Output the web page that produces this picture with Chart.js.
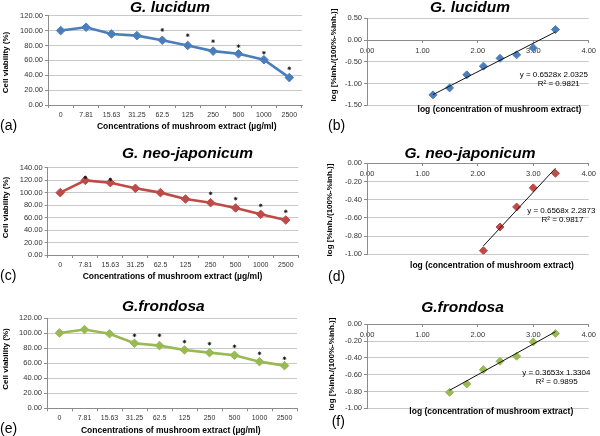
<!DOCTYPE html>
<html><head><meta charset="utf-8">
<script src="https://cdn.jsdelivr.net/npm/chart.js@4.4.1/dist/chart.umd.min.js"></script>
<style>
html,body{margin:0;padding:0;background:#fff;}
#wrap{position:relative;width:600px;height:436px;overflow:hidden;background:#fff;}
#wrap canvas{position:absolute;left:0;top:0;}
</style></head><body><div id="wrap">
<canvas id="ca" width="600" height="436"></canvas>
<canvas id="cb" width="600" height="436"></canvas>
<canvas id="cc" width="600" height="436"></canvas>
<canvas id="cd" width="600" height="436"></canvas>
<canvas id="ce" width="600" height="436"></canvas>
<canvas id="cf" width="600" height="436"></canvas>
</div>
<script>
// ---------- data ----------
const concentrations = ['0','7.81','15.63','31.25','62.5','125','250','500','1000','2500'];
const viabilityLucidum  = [100, 104.5, 95.5, 93.2, 87, 80, 72.4, 68.8, 60.8, 36.8];
const viabilityNeo      = [100, 119.7, 116, 106.9, 100, 89.8, 83.9, 75.4, 65.2, 56.1];
const viabilityFrondosa = [100.5, 105, 99.5, 86.7, 83.6, 77.8, 74.2, 70.7, 62.2, 56.9];
const starsLucidum  = [null, null, null, null, 100.9, 93.8, 85.8, 79.1, 70.2, 49.3];
const starsNeo      = [null, 124.5, 121.3, null, null, null, 98.9, 90.3, 79.6, 70];
const starsFrondosa = [null, null, null, 97.3, 97.3, 88.9, 86.2, 82.7, 73.3, 66.7];

const logConcLucidum  = [1.19, 1.49, 1.80, 2.10, 2.40, 2.70, 3.00, 3.40];
const logInhLucidum   = [-1.26, -1.10, -0.80, -0.60, -0.42, -0.34, -0.18, 0.24];
const logConcNeo      = [2.10, 2.40, 2.70, 3.00, 3.40];
const logInhNeo       = [-0.96, -0.70, -0.48, -0.27, -0.11];
const logConcFrondosa = [1.49, 1.80, 2.10, 2.40, 2.70, 3.00, 3.40];
const logInhFrondosa  = [-0.81, -0.71, -0.54, -0.44, -0.38, -0.21, -0.11];

const fitLucidum  = [0.6528, -2.0325];
const fitNeo      = [0.6568, -2.2873];
const fitFrondosa = [0.3653, -1.3304];

const logXTicks = [0, 1, 2, 3, 4];

// ---------- texts ----------
const titleLucidum = 'G. lucidum';
const titleNeo = 'G. neo-japonicum';
const titleFrondosa = 'G.frondosa';
const yTitleViability = 'Cell viability (%)';
const xTitleConc = 'Concentrations of mushroom extract (\u00b5g/ml)';
const yTitleLog = 'log [%inh./(100%-%inh.)]';
const xTitleLog = 'log (concentration of mushroom extract)';
const eqLucidum = 'y = 0.6528x 2.0325', r2Lucidum = 'R\u00b2 = 0.9821';
const eqNeo = 'y = 0.6568x 2.2873', r2Neo = 'R\u00b2 = 0.9817';
const eqFrondosa = 'y = 0.3653x 1.3304', r2Frondosa = 'R\u00b2 = 0.9895';

// ---------- styles ----------
const FAM = '"Liberation Sans", Arial, Helvetica, sans-serif';
const TITLE_FONT = 'italic bold 15.5px ' + FAM;
const AXT_FONT = 'bold 8px ' + FAM;
const XT_FONT = 'bold 8.5px ' + FAM;
const LET_FONT = '14px ' + FAM;
const EQ_FONT = '8px ' + FAM;
const AXIS_COL = '#8c8c8c';
const GRID_COL = '#c9c9c9';
const TICK_COL = '#333';
const YW = 30, XH = 16;

function textPlugin(items) {
  return {
    id: 'textLayer',
    afterDraw(chart) {
      const ctx = chart.ctx;
      items.forEach(it => {
        ctx.save();
        ctx.font = it.font;
        ctx.fillStyle = it.color || '#000';
        ctx.textAlign = it.align || 'center';
        ctx.textBaseline = 'middle';
        ctx.translate(it.x, it.y);
        if (it.rot) ctx.rotate(it.rot);
        ctx.fillText(it.text, 0, 0);
        ctx.restore();
      });
    }
  };
}

function pad(a, xh) { return {left: a.l - YW, top: a.t, right: 600 - a.r, bottom: 436 - a.b - xh}; }

function lineChart(id, area, values, stars, color, yMax, texts) {
  new Chart(document.getElementById(id), {
    type: 'line',
    data: {
      labels: concentrations,
      datasets: [
        {data: values, borderColor: color, backgroundColor: color, borderWidth: 2.6,
         pointStyle: 'rectRot', pointRadius: 4.3, pointBorderWidth: 1, tension: 0, order: 1},
        {data: stars, showLine: false, pointStyle: 'star', pointRadius: 1.8,
         borderColor: '#111', backgroundColor: '#111', pointBorderWidth: 0.8, borderWidth: 0.8, order: 0}
      ]
    },
    options: {
      responsive: false, animation: false, devicePixelRatio: 1,
      layout: {padding: pad(area, XH)},
      plugins: {legend: {display: false}, tooltip: {enabled: false}, title: {display: false}},
      scales: {
        x: {
          type: 'category', offset: true,
          grid: {offset: true, drawOnChartArea: false, drawTicks: true, tickLength: 3, color: AXIS_COL, tickColor: AXIS_COL},
          border: {display: true, color: AXIS_COL},
          ticks: {font: {family: FAM, size: 7}, color: TICK_COL, padding: 3, maxRotation: 0, autoSkip: false},
          afterFit: s => { s.height = XH; }
        },
        y: {
          min: 0, max: yMax,
          grid: {color: GRID_COL, tickColor: AXIS_COL, tickLength: 3, drawTicks: true},
          border: {display: true, color: AXIS_COL},
          ticks: {stepSize: 20, font: {family: FAM, size: 7.5}, color: TICK_COL, padding: 2, callback: v => v.toFixed(2)},
          afterFit: s => { s.width = YW; }
        }
      }
    },
    plugins: [textPlugin(texts)]
  });
}

function scatterChart(id, area, xs, ys, fit, color, yMin, yMax, yStep, texts) {
  const pts = xs.map((x, i) => ({x: x, y: ys[i]}));
  const x0 = xs[0], x1 = xs[xs.length - 1];
  const trend = [{x: x0, y: fit[0] * x0 + fit[1]}, {x: x1, y: fit[0] * x1 + fit[1]}];
  new Chart(document.getElementById(id), {
    type: 'scatter',
    data: {
      datasets: [
        {data: pts, pointStyle: 'rectRot', pointRadius: 4, backgroundColor: color, borderColor: color, pointBorderWidth: 1, order: 1},
        {data: trend, showLine: true, borderColor: '#111', borderWidth: 1, pointRadius: 0, order: 0}
      ]
    },
    options: {
      responsive: false, animation: false, devicePixelRatio: 1,
      layout: {padding: pad(area, 0)},
      plugins: {legend: {display: false}, tooltip: {enabled: false}, title: {display: false}},
      scales: {
        x: {
          type: 'linear', min: 0, max: 4, position: {y: 0},
          afterBuildTicks: s => { s.ticks = logXTicks.map(v => ({value: v})); },
          grid: {drawOnChartArea: false, drawTicks: true, tickLength: 2, color: AXIS_COL, tickColor: AXIS_COL},
          border: {display: true, color: AXIS_COL},
          ticks: {font: {family: FAM, size: 7.5}, color: TICK_COL, padding: 4, maxRotation: 0, callback: v => Number(v).toFixed(2)}
        },
        y: {
          min: yMin, max: yMax,
          grid: {color: GRID_COL, tickColor: AXIS_COL, tickLength: 3, drawTicks: true},
          border: {display: true, color: AXIS_COL},
          ticks: {stepSize: yStep, font: {family: FAM, size: 7.5}, color: TICK_COL, padding: 2, callback: v => v.toFixed(2)},
          afterFit: s => { s.width = YW; }
        }
      }
    },
    plugins: [textPlugin(texts)]
  });
}

const R = -Math.PI / 2;
lineChart('ca', {l: 48, r: 302, t: 15.7, b: 105}, viabilityLucidum, starsLucidum, '#4a7ebb', 120, [
  {text: titleLucidum, x: 170, y: 7.5, font: TITLE_FONT},
  {text: yTitleViability, x: 6, y: 62.5, font: AXT_FONT, rot: R},
  {text: xTitleConc, x: 186.7, y: 126.7, font: XT_FONT},
  {text: '(a)', x: 0, y: 126, font: LET_FONT, align: 'left'}
]);
lineChart('cc', {l: 47.7, r: 298.3, t: 167.7, b: 255}, viabilityNeo, starsNeo, '#be4b48', 140, [
  {text: titleNeo, x: 187.5, y: 154, font: TITLE_FONT},
  {text: yTitleViability, x: 6, y: 207.5, font: AXT_FONT, rot: R},
  {text: xTitleConc, x: 172.5, y: 276.7, font: XT_FONT},
  {text: '(c)', x: 0, y: 276, font: LET_FONT, align: 'left'}
]);
lineChart('ce', {l: 47, r: 297, t: 318.3, b: 408.3}, viabilityFrondosa, starsFrondosa, '#98b954', 120, [
  {text: titleFrondosa, x: 163.3, y: 306.7, font: TITLE_FONT},
  {text: yTitleViability, x: 6, y: 359, font: AXT_FONT, rot: R},
  {text: xTitleConc, x: 170.8, y: 430.7, font: XT_FONT},
  {text: '(e)', x: 0, y: 429, font: LET_FONT, align: 'left'}
]);
scatterChart('cb', {l: 367, r: 589, t: 18.3, b: 105.3}, logConcLucidum, logInhLucidum, fitLucidum, '#4a7ebb', -1.5, 0.5, 0.5, [
  {text: titleLucidum, x: 470, y: 8, font: TITLE_FONT},
  {text: yTitleLog, x: 333.3, y: 55, font: AXT_FONT, rot: R},
  {text: xTitleLog, x: 499.5, y: 110, font: XT_FONT},
  {text: eqLucidum, x: 553.8, y: 75, font: EQ_FONT},
  {text: r2Lucidum, x: 558.8, y: 84, font: EQ_FONT},
  {text: '(b)', x: 328, y: 126, font: LET_FONT, align: 'left'}
]);
scatterChart('cd', {l: 367, r: 589, t: 163.3, b: 254.3}, logConcNeo, logInhNeo, fitNeo, '#be4b48', -1, 0, 0.2, [
  {text: titleNeo, x: 470, y: 154, font: TITLE_FONT},
  {text: yTitleLog, x: 330, y: 210, font: AXT_FONT, rot: R},
  {text: xTitleLog, x: 492, y: 266, font: XT_FONT},
  {text: eqNeo, x: 561.3, y: 211, font: EQ_FONT},
  {text: r2Neo, x: 562.5, y: 220, font: EQ_FONT},
  {text: '(d)', x: 328, y: 276.7, font: LET_FONT, align: 'left'}
]);
scatterChart('cf', {l: 367, r: 589, t: 324.3, b: 408.3}, logConcFrondosa, logInhFrondosa, fitFrondosa, '#98b954', -1, 0, 0.2, [
  {text: titleFrondosa, x: 462.5, y: 307.7, font: TITLE_FONT},
  {text: yTitleLog, x: 331.7, y: 364, font: AXT_FONT, rot: R},
  {text: xTitleLog, x: 491.3, y: 411.7, font: XT_FONT},
  {text: eqFrondosa, x: 556.3, y: 372.3, font: EQ_FONT},
  {text: r2Frondosa, x: 556.7, y: 381.7, font: EQ_FONT},
  {text: '(f)', x: 331.7, y: 421.7, font: LET_FONT, align: 'left'}
]);
</script>
</body></html>
